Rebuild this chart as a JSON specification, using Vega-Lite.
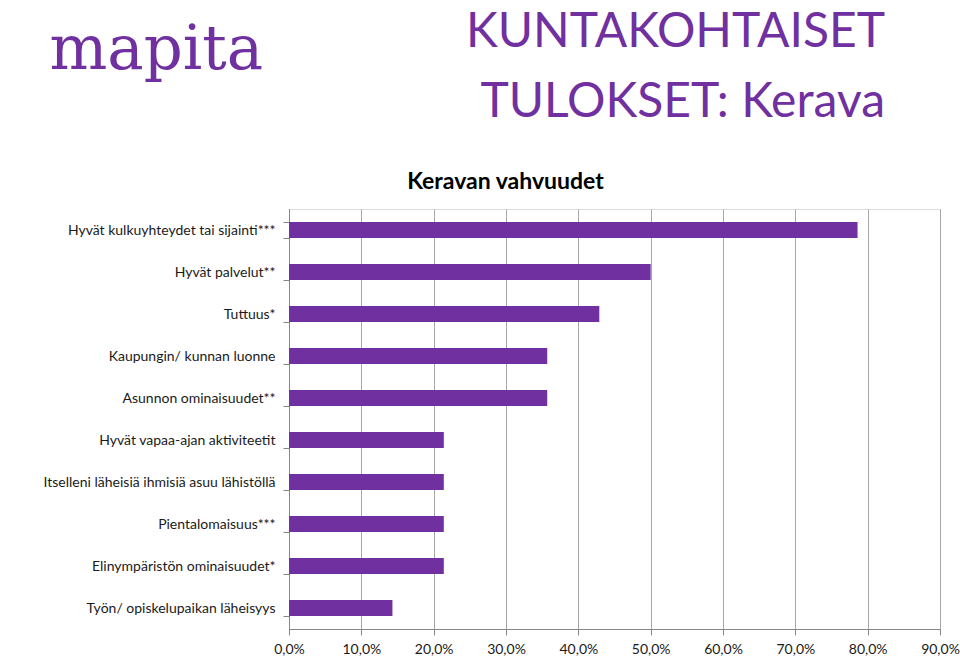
{
  "$schema": "https://vega.github.io/schema/vega-lite/v6.json",
  "width": 651,
  "height": 420,
  "autosize": {"type": "none"},
  "padding": {"left": 289, "top": 209, "right": 20, "bottom": 28},
  "background": "white",
  "title": {
    "text": ["KUNTAKOHTAISET", "TULOKSET: Kerava"],
    "anchor": "end",
    "frame": "group",
    "font": "Lato",
    "fontSize": 48,
    "fontWeight": "normal",
    "color": "#7030A0",
    "lineHeight": 70,
    "offset": -108,
    "dx": -55
  },
  "data": {
    "values": [
      {"label": "Hyvät kulkuyhteydet tai sijainti***", "value": 0.786},
      {"label": "Hyvät palvelut**", "value": 0.5},
      {"label": "Tuttuus*", "value": 0.429},
      {"label": "Kaupungin/ kunnan luonne", "value": 0.357},
      {"label": "Asunnon ominaisuudet**", "value": 0.357},
      {"label": "Hyvät vapaa-ajan aktiviteetit", "value": 0.214},
      {"label": "Itselleni läheisiä ihmisiä asuu lähistöllä", "value": 0.214},
      {"label": "Pientalomaisuus***", "value": 0.214},
      {"label": "Elinympäristön ominaisuudet*", "value": 0.214},
      {"label": "Työn/ opiskelupaikan läheisyys", "value": 0.143}
    ]
  },
  "encoding": {
    "y": {
      "field": "label",
      "type": "nominal",
      "sort": null,
      "scale": {"paddingInner": 0.62, "paddingOuter": 0.31},
      "axis": {
        "title": "mapita",
        "titleAngle": 0,
        "titleX": -240,
        "titleY": -141,
        "titleAlign": "left",
        "titleBaseline": "alphabetic",
        "titleFont": "DejaVu Serif",
        "titleFontSize": 61,
        "titleFontWeight": "normal",
        "titleColor": "#7030A0",
        "labelFont": "Lato",
        "labelFontSize": 14,
        "labelColor": "#1a1a1a",
        "labelPadding": 8,
        "labelLimit": 300,
        "tickBand": "extent",
        "tickSize": 6,
        "tickColor": "#868686",
        "domainColor": "#868686",
        "grid": false
      }
    }
  },
  "layer": [
    {
      "mark": {"type": "bar", "color": "#7030A0"},
      "encoding": {
        "x": {
          "field": "value",
          "type": "quantitative",
          "scale": {"domain": [0, 0.9], "nice": false},
          "axis": {
            "title": null,
            "values": [0, 0.1, 0.2, 0.3, 0.4, 0.5, 0.6, 0.7, 0.8, 0.9],
            "labelExpr": "replace(format(datum.value, '.1%'), '.', ',')",
            "labelFont": "Lato",
            "labelFontSize": 14,
            "labelColor": "#1a1a1a",
            "labelPadding": 7,
            "labelFlush": false,
            "tickSize": 6,
            "tickColor": "#868686",
            "domainColor": "#868686",
            "grid": true,
            "gridColor": "#a6a6a6",
            "gridWidth": 1
          }
        }
      }
    },
    {
      "mark": {"type": "bar", "opacity": 0},
      "encoding": {
        "x": {
          "field": "value",
          "type": "quantitative",
          "scale": {"domain": [0, 0.9], "nice": false},
          "axis": {
            "orient": "top",
            "title": "Keravan vahvuudet",
            "titleX": 216,
            "titleY": -21,
            "titleAlign": "center",
            "titleBaseline": "alphabetic",
            "titleFont": "Lato",
            "titleFontSize": 23,
            "titleFontWeight": "bold",
            "titleColor": "#000000",
            "labels": false,
            "ticks": false,
            "domain": false,
            "grid": false
          }
        }
      }
    }
  ],
  "resolve": {"axis": {"x": "independent"}}
}
